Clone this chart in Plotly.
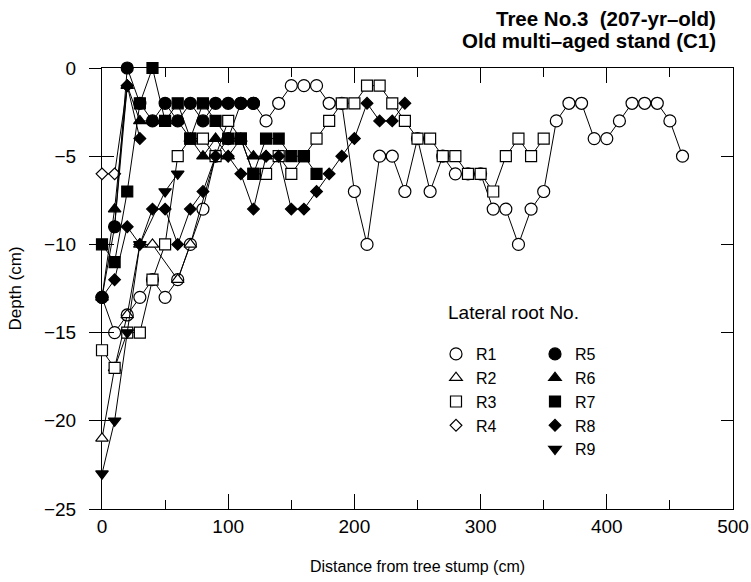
import plotly.graph_objects as go

# ---------------- data (distance cm, depth cm) ----------------
r1_x = list(range(0, 461, 10))
r1_y = [-13, -15, -14, -13, -12, -13, -12, -10, -8, -5, -4, -2, -2, -3, -2, -1, -1, -1,
        -2, -2, -7, -10, -5, -5, -7, -4, -7, -5, -6, -6, -6, -8, -8, -10, -8, -7, -3, -2,
        -2, -4, -4, -3, -2, -2, -2, -3, -5]

r2_x = [0, 10, 20, 30, 40, 60, 70, 90]
r2_y = [-21, -17, -14, -10, -10, -12, -10, -5]

r3_x = list(range(0, 351, 10))
r3_y = [-16, -17, -15, -15, -12, -10, -5, -4, -4, -5, -3, -4, -6, -6, -5, -6, -5, -4,
        -3, -2, -2, -1, -1, -2, -3, -4, -4, -5, -5, -6, -6, -7, -5, -4, -5, -4]

r4_x = [0, 10, 20]
r4_y = [-6, -6, -1]

r5_x = list(range(0, 121, 10))
r5_y = [-13, -9, 0, -2, -3, -2, -3, -2, -3, -2, -2, -2, -2]

r6_x = list(range(0, 131, 10))
r6_y = [-13, -8, -1, -3, -3, -3, -3, -4, -5, -4, -5, -4, -5, -5]

r7_x = list(range(0, 171, 10))
r7_y = [-10, -11, -7, -2, 0, -3, -2, -4, -2, -3, -4, -4, -6, -4, -4, -5, -5, -6]

# R8: main long root plus a short branch near the stump
r8_x = list(range(0, 241, 10))
r8_y = [-13, -12, -9, -10, -8, -8, -10, -8, -7, -5, -5, -6, -8, -5, -5, -8, -8, -7,
        -6, -5, -4, -2, -3, -3, -2]
r8b_x = [10, 20, 30]
r8b_y = [-9, -1, -4]

r9_x = [0, 10, 20, 30, 50, 60]
r9_y = [-23, -20, -15, -10, -7, -6]

x_ticks = [0, 100, 200, 300, 400, 500]
y_ticks = [0, -5, -10, -15, -20, -25]

names = ["R1", "R2", "R3", "R4", "R5", "R6", "R7", "R8", "R9"]
xs = [r1_x, r2_x, r3_x, r4_x, r5_x, r6_x, r7_x, r8_x, r9_x]
ys = [r1_y, r2_y, r3_y, r4_y, r5_y, r6_y, r7_y, r8_y, r9_y]
symbols = ["circle", "triangle-up", "square", "diamond",
           "circle", "triangle-up", "square", "diamond", "triangle-down"]
fills = ["white"] * 4 + ["black"] * 5
sizes = {"circle": 12, "triangle-up": 11, "square": 11, "diamond": 9, "triangle-down": 11}

FONT = "Liberation Sans, Arial, sans-serif"

fig = go.Figure()
for nm, x, y, sym, fc in zip(names, xs, ys, symbols, fills):
    fig.add_trace(go.Scatter(
        x=x, y=y, mode="lines+markers", name=nm, showlegend=False,
        cliponaxis=False,
        line=dict(color="black", width=1),
        marker=dict(symbol=sym, size=sizes[sym], color=fc,
                    line=dict(color="black", width=1.2)),
    ))
    if nm == "R8":
        fig.add_trace(go.Scatter(
            x=r8b_x, y=r8b_y, mode="lines+markers", name="R8", showlegend=False,
            cliponaxis=False,
            line=dict(color="black", width=1),
            marker=dict(symbol=sym, size=sizes[sym], color=fc,
                        line=dict(color="black", width=1.2)),
        ))

# legend-only entries (marker without line)
for i, (nm, sym, fc) in enumerate(zip(names, symbols, fills)):
    fig.add_trace(go.Scatter(
        x=[None], y=[None], mode="markers", name=nm,
        legend="legend" if i < 4 else "legend2",
        marker=dict(symbol=sym, size=sizes[sym], color=fc,
                    line=dict(color="black", width=1.2)),
    ))

axis_common = dict(showline=True, linecolor="black", linewidth=1, showgrid=False,
                   zeroline=False, tickcolor="black", tickwidth=1,
                   layer="below traces")

fig.update_layout(
    width=751, height=582,
    margin=dict(l=102, r=18, t=68, b=73, autoexpand=False),
    paper_bgcolor="white", plot_bgcolor="white",
    font=dict(family=FONT, size=19, color="black"),
    xaxis=dict(range=[0, 500], tickvals=x_ticks, ticks="inside", ticklen=15,
               mirror="ticks", automargin=False, tickfont=dict(size=19),
               minor=dict(dtick=50, ticks="inside", ticklen=9, tickcolor="black"),
               title=dict(text="Distance from tree stump (cm)", font=dict(size=16), standoff=25),
               **axis_common),
    yaxis=dict(range=[-25, 0], tickvals=y_ticks, ticks="outside", ticklen=12,
               mirror=True, automargin=False, ticklabelstandoff=9, tickfont=dict(size=19),
               title=dict(text="Depth (cm)", font=dict(size=17), standoff=18),
               **axis_common),
    yaxis2=dict(range=[-25, 0], tickvals=y_ticks, ticks="inside", ticklen=12,
                mirror="ticks", overlaying="y", anchor="x", side="left",
                showticklabels=False, showline=False, showgrid=False, zeroline=False,
                tickcolor="black", tickwidth=1),
    legend=dict(x=(436 - 102) / 631, y=1 - (337 - 68) / 441, xanchor="left", yanchor="top",
                bgcolor="rgba(0,0,0,0)", font=dict(size=16), tracegroupgap=0,
                itemclick=False),
    legend2=dict(x=(535 - 102) / 631, y=1 - (337 - 68) / 441, xanchor="left", yanchor="top",
                 bgcolor="rgba(0,0,0,0)", font=dict(size=16), tracegroupgap=0,
                 itemclick=False),
    annotations=[
        dict(text="Lateral root No.", xref="paper", yref="paper",
             x=(513 - 102) / 631, y=1 - (312 - 68) / 441, xanchor="center", yanchor="middle",
             showarrow=False, font=dict(size=19)),
        dict(text="<b>Tree No.3\u00a0\u00a0(207-yr\u2013old)</b>",
             xref="paper", yref="paper", x=(718 - 102) / 631, y=1 + (68 - 18) / 441,
             xanchor="right", yanchor="middle", showarrow=False, font=dict(size=20.5)),
        dict(text="<b>Old multi\u2013aged stand (C1)</b>",
             xref="paper", yref="paper", x=(718 - 102) / 631, y=1 + (68 - 40) / 441,
             xanchor="right", yanchor="middle", showarrow=False, font=dict(size=20.5)),
    ],
)
# dummy trace on yaxis2 so the overlay axis is drawn
fig.add_trace(go.Scatter(x=[None], y=[None], yaxis="y2", showlegend=False, hoverinfo="skip"))

fig.write_html("out.html")
